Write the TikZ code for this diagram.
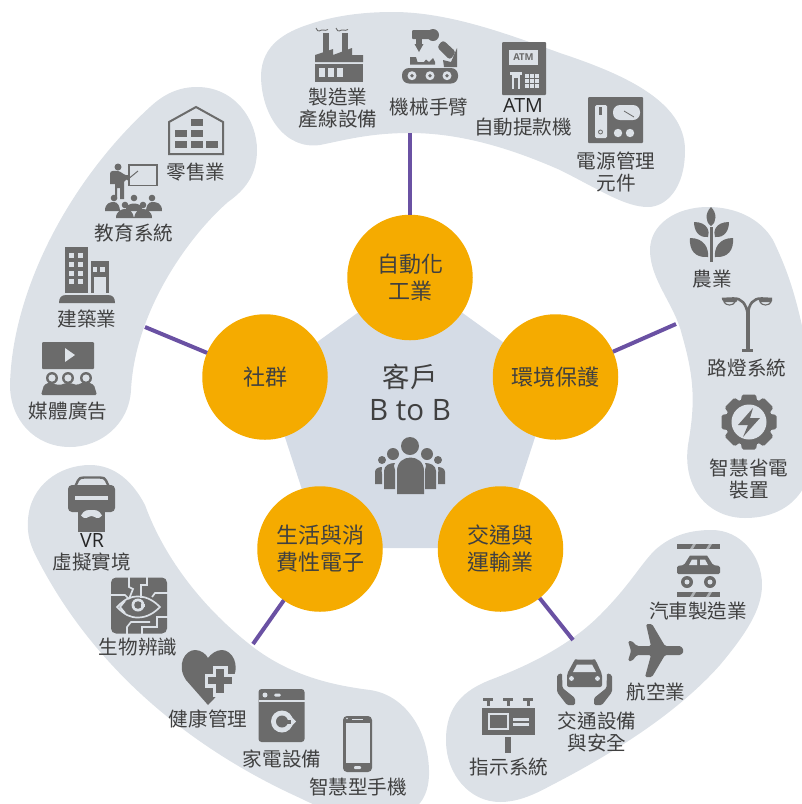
\documentclass[tikz,border=0pt]{standalone}
\usepackage{fontspec}
\setmainfont{Noto Sans CJK TC}
\newfontfamily\latinf{Open Sans}
\definecolor{blobc}{HTML}{DCE1E7}
\definecolor{pentc}{HTML}{D5DCE6}
\definecolor{orangec}{HTML}{F5AB00}
\definecolor{iconc}{HTML}{6B6B6B}
\definecolor{textc}{HTML}{404040}
\definecolor{linkc}{HTML}{6A51A3}
\tikzset{
  blob/.style={fill=blobc,draw=none},
  hub/.style={circle,fill=orangec,draw=none,minimum size=125.5pt,inner sep=0pt,outer sep=0pt,text=textc,align=center,font=\fontsize{22}{27}\selectfont},
  lab/.style={text=textc,align=center,inner sep=0pt,font=\fontsize{19.6}{22}\selectfont},
  link/.style={draw=linkc,line width=4pt},
  ic/.style={fill=iconc,draw=none},
  ib/.style={fill=blobc,draw=none},
  il/.style={draw=iconc,fill=none},
  ibl/.style={draw=blobc,fill=none}
}
\begin{document}
\begin{tikzpicture}[x=1pt,y=-1pt]
\useasboundingbox (0,0) rectangle (802,804);
\clip (0,0) rectangle (802,804);
% blobs
\fill[blob] (261,75) .. controls (262,45) and (285,32) .. (310,24) .. controls (340,14) and (370,12) .. (393,12) .. controls (450,12) and (510,35) .. (560,53) .. controls (620,73) and (685,100) .. (685,150) .. controls (685,190) and (665,207) .. (648,207) .. controls (625,207) and (600,190) .. (560,170) .. controls (510,148) and (460,133) .. (410,133) .. controls (370,133) and (345,140) .. (320,145) .. controls (285,150) and (261,115) .. (261,75) -- cycle;
\fill[blob] (197,87) .. controls (235,87) and (257,120) .. (257,150) .. controls (257,175) and (245,190) .. (228,202) .. controls (190,235) and (135,310) .. (131,390) .. controls (129,425) and (100,447) .. (70,447) .. controls (35,447) and (10,420) .. (10,385) .. controls (12,290) and (70,180) .. (150,107) .. controls (165,93) and (180,87) .. (197,87) -- cycle;
\fill[blob] (90,465) .. controls (115,465) and (133,482) .. (145,505) .. controls (165,560) and (205,610) .. (253,647) .. controls (290,675) and (330,685) .. (370,690) .. controls (405,695) and (428,730) .. (429,770) .. controls (430,800) and (415,818) .. (380,818) .. controls (345,818) and (320,808) .. (300,798) .. controls (205,755) and (100,680) .. (38,560) .. controls (30,545) and (27,535) .. (28,520) .. controls (30,485) and (60,465) .. (90,465) -- cycle;
\fill[blob] (712,530) .. controls (740,530) and (762,555) .. (762,585) .. controls (762,610) and (745,635) .. (720,665) .. controls (680,710) and (620,750) .. (550,786) .. controls (530,797) and (515,802) .. (500,802) .. controls (470,802) and (446,775) .. (446,740) .. controls (446,705) and (465,690) .. (490,680) .. controls (530,665) and (570,645) .. (600,615) .. controls (630,585) and (640,565) .. (655,550) .. controls (672,535) and (690,530) .. (712,530) -- cycle;
\fill[blob] (708,207) .. controls (675,207) and (650,225) .. (650,250) .. controls (650,280) and (675,305) .. (682,335) .. controls (695,380) and (695,405) .. (688,445) .. controls (682,490) and (710,518) .. (745,518) .. controls (775,518) and (795,505) .. (805,485) -- (805,340) .. controls (795,290) and (785,265) .. (773,240) .. controls (760,218) and (735,207) .. (708,207) -- cycle;
% pentagon
\fill[pentc] (410,275)--(554,379)--(499,548)--(321,548)--(266,379)--cycle;
% hubs
\node[hub] (auto) at (410,277.5) {自動化\\工業};
\node[hub] (env) at (555.5,377) {環境保護};
\node[hub] (trans) at (500.5,549) {交通與\\運輸業};
\node[hub] (life) at (320,549) {生活與消\\費性電子};
\node[hub] (soc) at (265,377) {社群};
% connector ends
\coordinate (eA) at (410,133);
\coordinate (eE) at (676,324);
\coordinate (eT) at (573,640);
\coordinate (eL) at (253,644);
\coordinate (eS) at (145,327);
\draw[link] (auto)--(eA);
\draw[link] (env)--(eE);
\draw[link] (trans)--(eT);
\draw[link] (life)--(eL);
\draw[link] (soc)--(eS);
% centre
\node[text=textc,align=center,inner sep=0pt,font=\fontsize{27.5}{33}\selectfont] (center) at (410,392.5) {客戶\\{\latinf\fontsize{29.5}{33}\selectfont B to B}};
% people icon
\fill[ic] (410,446) circle (9);
\fill[ic] (397,494) -- (397,471) .. controls (397,453) and (424,453) .. (424,471) -- (424,494) -- cycle;
\fill[ic] (393,454) circle (6);\fill[ic] (427,454) circle (6);
\fill[ic] (384,489) -- (384,471) .. controls (384,465) and (390,463) .. (395,463) .. controls (393,466) and (395,468) .. (395,470) -- (395,489) -- cycle;
\fill[ic] (436,489) -- (436,471) .. controls (436,465) and (430,463) .. (425,463) .. controls (427,466) and (425,468) .. (425,470) -- (425,489) -- cycle;
\fill[ic] (382,460) circle (4);\fill[ic] (438,460) circle (4);
\fill[ic] (375,484) -- (375,472) .. controls (375,469) and (378,467) .. (382,467) .. controls (381,470) and (382,472) .. (382,474) -- (382,484) -- cycle;
\fill[ic] (445,484) -- (445,472) .. controls (445,469) and (442,467) .. (438,467) .. controls (439,470) and (438,472) .. (438,474) -- (438,484) -- cycle;
% labels: top
\node[lab] (t1) at (338,108) {製造業\\產線設備};
\node[lab] (t2) at (429,107) {機械手臂};
\node[lab] (t3) at (523,117) {{\latinf\color{black!85}ATM}\\自動提款機};
\node[lab] (t4) at (616,172) {電源管理\\元件};
% left
\node[lab] (l1) at (196,172) {零售業};
\node[lab] (l2) at (134,233) {教育系統};
\node[lab] (l3) at (87,319) {建築業};
\node[lab] (l4) at (68,411) {媒體廣告};
% bottom-left
\node[lab] (b1) at (92,552) {{\latinf\color{black!85}VR}\\虛擬實境};
\node[lab] (b2) at (138,647) {生物辨識};
\node[lab] (b3) at (208,719) {健康管理};
\node[lab] (b4) at (282,759) {家電設備};
\node[lab] (b5) at (358,787) {智慧型手機};
% bottom-right
\node[lab] (r1) at (698,611) {汽車製造業};
\node[lab] (r2) at (656,692) {航空業};
\node[lab] (r3) at (597,732) {交通設備\\與安全};
\node[lab] (r4) at (509,767) {指示系統};
% right
\node[lab] (e1) at (712,279) {農業};
\node[lab] (e2) at (747,368) {路燈系統};
\node[lab] (e3) at (749,479) {智慧省電\\裝置};
% factory
\fill[ic] (323,33) rectangle (329,55);\fill[ic] (342,33) rectangle (348,55);
\fill[ic] (315,62) -- (315,55) -- (333,49) -- (333,55) -- (352,48) -- (352,55) -- (363,55) -- (363,62) -- cycle;
\fill[ic] (315,64) rectangle (363,82);
\fill[ib] (319,68) rectangle (325,77);\fill[ib] (328,68) rectangle (333.5,77);\fill[ib] (337,68) rectangle (343,77);
\draw[il,line width=.9pt] (316,28) .. controls (318,34) and (321,29) .. (323,30) .. controls (325,31) and (326,30) .. (328,29.5);
\draw[il,line width=.9pt] (336,28) .. controls (338,34) and (341,29) .. (343,30) .. controls (345,31) and (346,30) .. (348,29.5);
% robot
\fill[ic,rounded corners=7pt] (402,68) rectangle (458,83.5);
\foreach \px in {412,430,447}{\fill[ib] (\px,75.7) circle (4.5);\fill[ic] (\px,75.7) circle (1.9);}
\fill[ic,rounded corners=1pt] (412,30) rectangle (433,39);
\fill[ic] (433,35) circle (6);
\fill[ic] (416,39) rectangle (422,44);
\fill[ic] (414.5,44) -- (423.5,44) -- (419,52) -- cycle;
\fill[ic,rounded corners=3pt] (437,47) -- (443,40) -- (456,52) -- (450,60) -- cycle;
\fill[ic] (443,60) -- (451,62) -- (457,48) -- (457,67) -- (444,67) -- cycle;
\fill[ic] (410,64.5) -- (410,57) -- (416,57) -- (417.5,62) -- (424,62) -- (426,59.5) -- (429,62) -- (433,58) -- (435,62) -- (435,64.5) -- cycle;
% ATM
\fill[ic,rounded corners=1pt] (502,42) rectangle (546,95);
\fill[ib] (509,50) rectangle (538,65);
\node[text=iconc,inner sep=0pt,font=\latinf\bfseries\fontsize{9.5}{10}\selectfont] (atmtxt) at (523.5,57.5) {ATM};
\fill[ib] (510,72) rectangle (522,75);\fill[ib] (512,75) rectangle (520,89);\fill[ic] (514,78) rectangle (518,89);
\foreach \kx in {525,530,535}{\foreach \ky in {74,79,84}{\fill[ib] (\kx,\ky) rectangle ++(4,4);}}
% power
\fill[ic,rounded corners=1pt] (588,97) rectangle (643,143);
\fill[ib,rounded corners=1.5pt] (595,105) rectangle (607,138);
\fill[ic] (599,107) rectangle (602,115);
\draw[il,line width=.8pt] (600.5,132) circle (2);
\fill[ib,rounded corners=7pt] (613,105) rectangle (640,120);
\draw[il,line width=.8pt] (624,111) -- (634,117);
\fill[ib] (618,133) circle (4.2);\fill[ib] (630,133) circle (4.2);
% warehouse
\draw[il,line width=2pt,line join=miter] (169,154) -- (169,122) -- (196,107) -- (223,122) -- (223,154) -- cycle;
\fill[ic] (191,119) rectangle (203,126);
\fill[ic] (175,130) rectangle (187,137);\fill[ic] (191,130) rectangle (203,137);
\fill[ic] (175,141) rectangle (187,148);\fill[ic] (191,141) rectangle (203,148);\fill[ic] (206,141) rectangle (218,148);
% teacher
\draw[il,line width=1.5pt] (129,165) rectangle (157,185.5);
\fill[ic] (118,167) circle (3.5);
\fill[ic] (110,184) -- (110,174) .. controls (110,170) and (114,171) .. (118,171) .. controls (121,171) and (125,177) .. (129,175) -- (130,177) .. controls (126,181) and (124,180) .. (124,182) -- (124,199) -- (120,199) -- (120,188) -- (117,188) -- (117,199) -- (115,199) -- (115,184) -- cycle;
\draw[il,line width=1pt] (127,180) -- (138,171);
\foreach \hx/\hy in {114/198,134/198,152/198,125/205,143/205}{\fill[ic] (\hx,\hy) circle (3.3);}
\fill[ic] (105,211) .. controls (105,203) and (110,202) .. (114,202) .. controls (118,202) and (120,207) .. (120,211) -- cycle;
\fill[ic] (162,211) .. controls (162,203) and (157,202) .. (152,202) .. controls (148,202) and (146,207) .. (146,211) -- cycle;
\fill[ic] (126,208) .. controls (128,202) and (140,202) .. (142,208) -- (142,211) -- (126,211) -- cycle;
\fill[ic] (116,218) .. controls (116,211) and (122,209) .. (125,209) .. controls (130,209) and (133,212) .. (134,218) -- cycle;
\fill[ic] (152,218) .. controls (152,211) and (146,209) .. (143,209) .. controls (138,209) and (135,212) .. (134,218) -- cycle;
% building
\fill[ic] (65,247) rectangle (88,293);
\fill[ic] (91,261) rectangle (109,293);
\foreach \wy in {253,262,271,279}{\fill[ib] (69,\wy) rectangle ++(5,5);\fill[ib] (78,\wy) rectangle ++(5,5);}
\fill[ib] (93,267) rectangle (97,272);\fill[ib] (100,267) rectangle (105,272);
\fill[ib] (94,277) rectangle (106,293);
\fill[ic] (59,303) .. controls (59,298) and (61,295) .. (66,295) -- (108,295) .. controls (113,295) and (115,298) .. (115,303) -- cycle;
% media
\fill[ic,rounded corners=1pt] (42,342) rectangle (94,369);
\fill[blobc!90!white] (65,348) -- (65,362) -- (75,355) -- cycle;
\foreach \mx in {52,68,86}{
\fill[ic] (\mx,378) circle (6);\fill[ib] (\mx,378) circle (3.6);}
\fill[ic,rounded corners=1.5pt] (41,395) -- (44,385) -- (50,382) -- (54,384) -- (60,385) -- (66,383) -- (70,383) -- (77,385) -- (84,382) -- (88,382) -- (94,385) -- (97,395) -- cycle;
% VR
\draw[il,line width=2.4pt,line join=round] (75,487) -- (78,480.5) .. controls (79,478) and (81,477.5) .. (84,477.5) -- (100,477.5) .. controls (103,477.5) and (105,478) .. (106,480.5) -- (109,487);
\fill[ic,rounded corners=4pt] (68,485) rectangle (115,512);
\fill[ib] (75,496) rectangle (108,500);
\fill[ic] (78,508) -- (105,508) -- (105,532) -- (78,532) -- cycle;
\fill[ib] (81,515.5) .. controls (84,509.5) and (88,510) .. (91.5,510) .. controls (95,510) and (99,509.5) .. (102,515.5) .. controls (97,521) and (95,516) .. (91.5,516) .. controls (88,516) and (86,521) .. (81,515.5) -- cycle;
% biometric
\fill[ic,rounded corners=5pt] (111,577.5) rectangle (167,633.5);
\begin{scope}[ibl,line width=1.7pt,line join=miter]
\draw (129,577) -- (129,587) -- (133,589) -- (129,599);
\draw (147,577) -- (147,585) -- (141,585) -- (141,598);
\draw (110,595) -- (125,595) -- (129,599);
\draw (168,593) -- (155,593) -- (152,597);
\draw (117,607) .. controls (125,599) and (130,596.5) .. (138,596.5) .. controls (148,596.5) and (155,602) .. (160,607) .. controls (155,612) and (148,617.5) .. (138,617.5) .. controls (130,617.5) and (125,615) .. (117,607) -- cycle;
\draw (125,601) -- (120,607) -- (125,613);
\draw (127,634) -- (127,627) -- (131,622) -- (150,622);
\draw (142,634) -- (142,627) -- (157,627) -- (157,617) -- (168,617);
\end{scope}
\fill[ib] (138,605) circle (6.5);\fill[ic] (138,605) circle (3.8);\fill[ib] (140.5,603.5) rectangle (145,606.5);
% heart
\fill[ic] (208,705) -- (186,680) .. controls (176,665) and (185,650) .. (195,650) .. controls (201,650) and (206,654) .. (208,658) .. controls (211,654) and (216,650) .. (222,650) .. controls (232,650) and (241,665) .. (232,680) -- cycle;
\fill[ib] (212.5,665.5) rectangle (227.5,696.5);
\fill[ib] (205,673.5) rectangle (235.5,687.5);
\fill[ic] (216,669) rectangle (224,693);
\fill[ic] (208,677) rectangle (232,684);
% washer
\fill[ic,rounded corners=3pt] (258.5,689) rectangle (304.5,742);
\fill[ib] (258.5,700) rectangle (304.5,702);
\fill[ib] (265,695) circle (2.5);
\fill[ib,rounded corners=1.5pt] (274,693.5) rectangle (281,696.5);
\fill[ib] (282,721.5) circle (11);
\fill[ib] (288,713) -- (296,721.5) -- (288,730) -- cycle;
\fill[ic] (282,721.5) circle (6);
\fill[ic] (282,719.5) rectangle (291,723.5);
% phone
\fill[ic,rounded corners=4pt] (343,716) rectangle (372,772);
\fill[ib] (345.5,722.5) rectangle (369.5,763);
\fill[ib,rounded corners=1pt] (354,766) rectangle (361,769);
\fill[ib] (352,718.5) rectangle (363,719.7);
\fill[ib] (347,718.5) circle (.8);
% car factory
\fill[ic] (677,544) rectangle (720,549);
\fill[ic] (677,592) rectangle (720,597);
\foreach \hx in {690,706}{
\fill[blobc!60!iconc] (\hx,549) -- (\hx+3,549) -- (\hx+6,544) -- (\hx+3,544) -- cycle;
\fill[blobc!60!iconc] (\hx,597) -- (\hx+3,597) -- (\hx+6,592) -- (\hx+3,592) -- cycle;}
\fill[ic,rounded corners=1.5pt] (677,574) -- (677,566) -- (684,565) -- (689,557) .. controls (690,555.5) and (692,555.5) .. (694,555.5) -- (703,555.5) .. controls (705,555.5) and (707,555.5) .. (708,557) -- (713,565) -- (720,566) -- (720,574) -- cycle;
\fill[ib] (689,565) -- (692,559.5) -- (697,559.5) -- (697,565) -- cycle;
\fill[ib] (700,559.5) -- (705,559.5) -- (708,565) -- (700,565) -- cycle;
\foreach \wx in {687,710}{\fill[ic] (\wx,582) circle (6);\fill[ib] (\wx,582) circle (2.5);}
% plane
\fill[ic,rounded corners=1.5pt] (684,651) -- (681,646) -- (665,646) -- (652,624) -- (646,624) -- (651,646) -- (637,646) -- (632,641) -- (628,641) -- (631,651) -- (628,661) -- (632,661) -- (637,655) -- (651,655) -- (645,677) -- (652,677) -- (665,655) -- (681,655) -- cycle;
% car safety
\fill[ic,rounded corners=2pt] (567,687) -- (567,674) -- (574,661) .. controls (575,659.5) and (577,659.5) .. (580,659.5) -- (590,659.5) .. controls (593,659.5) and (595,659.5) .. (596,661) -- (602,674) -- (602,687) -- cycle;
\fill[ib] (573,672) -- (577,664.5) -- (592,664.5) -- (596,672) -- cycle;
\fill[ib] (571.5,678.5) circle (2.4);\fill[ib] (597.5,678.5) circle (2.4);
\fill[ic,rounded corners=1.5pt] (557,675) -- (562,673) -- (562.5,688) -- (575,698) -- (575,705) -- (567,705) -- (557,692) -- cycle;
\fill[ic,rounded corners=1.5pt] (612,675) -- (607,673) -- (606.5,688) -- (594,698) -- (594,705) -- (602,705) -- (612,692) -- cycle;
% sign
\foreach \sx in {483,503,523}{\fill[ic] (\sx,698) rectangle ++(10,3);\fill[ic] (\sx+3.5,698) rectangle ++(3,8);}
\fill[ic] (482,708) rectangle (535,735);
\draw[ibl,line width=1.6pt] (489,714) rectangle (508,729);
\fill[ib] (513,718) rectangle (529,720.5);\fill[ib] (513,723) rectangle (529,725.5);
\fill[ic] (505,737) rectangle (511,753);
% plant
\fill[ic] (710,227) rectangle (713,262);
\fill[ic] (711,207) .. controls (717,213) and (717,222) .. (711,226) .. controls (705,222) and (705,213) .. (711,207) -- cycle;
\fill[ic] (694,222) .. controls (708,222) and (710,232) .. (708,237) .. controls (698,238) and (694,230) .. (694,222) -- cycle;
\fill[ic] (729,222) .. controls (715,222) and (713,232) .. (715,237) .. controls (725,238) and (729,230) .. (729,222) -- cycle;
\fill[ic] (690,238) .. controls (704,238) and (709,248) .. (708,257) .. controls (695,258) and (689,250) .. (690,238) -- cycle;
\fill[ic] (733,238) .. controls (719,238) and (714,248) .. (715,257) .. controls (728,258) and (734,250) .. (733,238) -- cycle;
% lamp
\fill[ic] (746,310) rectangle (749.5,350);
\fill[ic] (742,348.5) rectangle (753,352);
\draw[il,line width=2.6pt] (722,299) -- (733,298.5) .. controls (742,298) and (746,304) .. (747.8,314) .. controls (749,304) and (753,298) .. (762,298.5) -- (772,299);
\fill[ic,rounded corners=1pt] (723,298) rectangle (737,302);
\fill[ic,rounded corners=1pt] (759,298) rectangle (772,302);
\draw[il,line width=1.1pt] (724,302) .. controls (726,306) and (733,306) .. (735,302);
\draw[il,line width=1.1pt] (760,302) .. controls (762,306) and (769,306) .. (771,302);
% gear
\foreach \ga in {0,45,...,315}{\fill[ic,rounded corners=1.5pt,rotate around={\ga:(749,422)}] (742,394.5) -- (756,394.5) -- (758,406) -- (740,406) -- cycle;}
\fill[ic] (749,422) circle (23.5);
\fill[ib] (749,422) circle (17.5);
\fill[ic] (753,408) -- (738,425) -- (748,425) -- (743,437) -- (760,418) -- (750,418) -- cycle;
\end{tikzpicture}
\end{document}
